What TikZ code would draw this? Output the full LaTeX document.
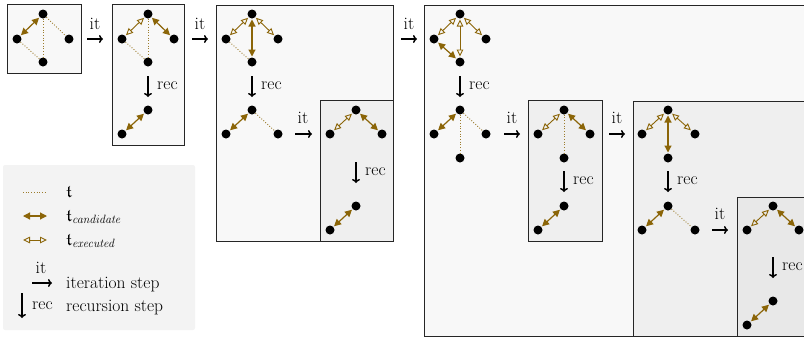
\documentclass[tikz,border=0pt]{standalone}
\usepackage{amssymb}
\usetikzlibrary{arrows.meta}
\definecolor{gold}{RGB}{139,101,8}
\definecolor{boxA}{HTML}{F8F8F8}
\definecolor{boxB}{HTML}{EFEFEF}
\definecolor{boxC}{HTML}{E8E8E8}
\definecolor{legbg}{HTML}{F3F3F3}
\begin{document}
\begin{tikzpicture}[x=1pt,y=-1pt,
 dot/.style={circle,fill=black,inner sep=0pt,minimum size=9pt},
 cand/.style={gold,line width=1.2pt,{Triangle[length=7pt,width=7pt]}-{Triangle[length=7pt,width=7pt]},shorten <=0.8pt,shorten >=0.8pt},
 exec/.style={gold,line width=0.9pt,{Triangle[open,length=7pt,width=6.5pt]}-{Triangle[open,length=7pt,width=6.5pt]},shorten <=0.8pt,shorten >=0.8pt},
 dotl/.style={gold!85,line width=0.9pt,dash pattern=on 0.9pt off 1.8pt},
 panel/.style={draw=black!85,line width=0.9pt},
 stepar/.style={line width=1.5pt,-{To[length=4pt,width=8pt]}},
 lbl/.style={font=\fontsize{17.5}{20}\selectfont,inner sep=0pt},
]
\useasboundingbox (0,0) rectangle (804,338);
\clip (0,0) rectangle (804,338);

% panels
\draw[panel,fill=boxA] (7,4) rectangle (81,73);
\draw[panel,fill=boxA] (112,4) rectangle (184,145);
\draw[panel,fill=boxA] (216,5) rectangle (393,241);
\draw[panel,fill=boxB] (320,100) rectangle (393,241);
\draw[panel,fill=boxA] (424,5) rectangle (812,336);
\draw[panel,fill=boxB] (528,100) rectangle (602,241);
\draw[panel,fill=boxB] (633,101) rectangle (812,336);
\draw[panel,fill=boxC] (737,197) rectangle (812,336);

% legend
\fill[legbg,rounded corners=2pt] (3,165) rectangle (195,330);
\coordinate (l1a) at (23,192); \coordinate (l1b) at (47,192);
\coordinate (l2a) at (23,216); \coordinate (l2b) at (47,216);
\coordinate (l3a) at (23,240); \coordinate (l3b) at (47,240);
\draw[dotl] (l1a) -- (l1b);
\draw[cand,shorten <=0pt,shorten >=0pt] (l2a) -- (l2b);
\draw[exec,shorten <=0pt,shorten >=0pt] (l3a) -- (l3b);
\node[lbl,anchor=base west] (lt1) at (66,197) {$\mathfrak{t}$};
\node[lbl,anchor=base west] (lt2) at (66,221) {$\mathfrak{t}_{\mathit{candidate}}$};
\node[lbl,anchor=base west] (lt3) at (66,245) {$\mathfrak{t}_{\mathit{executed}}$};
\coordinate (lia) at (32,283); \coordinate (lib) at (52,283);
\draw[stepar] (lia) -- (lib);
\node[lbl] (lit) at (41,268) {it};
\node[lbl,anchor=base west] (lt4) at (66,288) {iteration step};
\coordinate (lra) at (22,293); \coordinate (lrb) at (22,318);
\draw[stepar] (lra) -- (lrb);
\node[lbl,anchor=west] (lrec) at (32,306) {rec};
\node[lbl,anchor=base west] (lt5) at (66,311) {recursion step};

% ---------- P1
\node[dot] (a1t) at (43,14) {};
\node[dot] (a1l) at (17,39) {};
\node[dot] (a1r) at (69,39) {};
\node[dot] (a1b) at (43,62) {};
\draw[cand] (a1t) -- (a1l);
\draw[dotl] (a1t) -- (a1r);
\draw[dotl] (a1t) -- (a1b);
\draw[dotl] (a1l) -- (a1b);

% it 1
\draw[stepar] (87,39) coordinate (i1a) -- (103,39) coordinate (i1b);
\node[lbl] (i1) at (95,24) {it};

% ---------- P2
\node[dot] (a2t) at (148,14) {};
\node[dot] (a2l) at (122,39) {};
\node[dot] (a2r) at (174,39) {};
\node[dot] (a2b) at (148,62) {};
\draw[exec] (a2t) -- (a2l);
\draw[cand] (a2t) -- (a2r);
\draw[dotl] (a2t) -- (a2b);
\draw[dotl] (a2l) -- (a2b);
\draw[stepar] (148,76) coordinate (r2a) -- (148,97) coordinate (r2b);
\node[lbl,anchor=west] (r2) at (157,86) {rec};
\node[dot] (b2t) at (148,110) {};
\node[dot] (b2l) at (122,134) {};
\draw[cand] (b2t) -- (b2l);

% it 2
\draw[stepar] (192,39) coordinate (i2a) -- (208,39) coordinate (i2b);
\node[lbl] (i2) at (200,24) {it};

% ---------- P3
\node[dot] (a3t) at (252,14) {};
\node[dot] (a3l) at (226,39) {};
\node[dot] (a3r) at (278,39) {};
\node[dot] (a3b) at (252,62) {};
\draw[exec] (a3t) -- (a3l);
\draw[exec] (a3t) -- (a3r);
\draw[cand] (a3t) -- (a3b);
\draw[dotl] (a3l) -- (a3b);
\draw[stepar] (252,76) coordinate (r3a) -- (252,97) coordinate (r3b);
\node[lbl,anchor=west] (r3) at (261,86) {rec};
\node[dot] (b3t) at (252,110) {};
\node[dot] (b3l) at (226,134) {};
\node[dot] (b3r) at (278,134) {};
\draw[cand] (b3t) -- (b3l);
\draw[dotl] (b3t) -- (b3r);
\draw[stepar] (295,134) coordinate (i3ba) -- (312,134) coordinate (i3bb);
\node[lbl] (i3b) at (303,118) {it};
\node[dot] (c3t) at (356,110) {};
\node[dot] (c3l) at (330,134) {};
\node[dot] (c3r) at (382,134) {};
\draw[exec] (c3t) -- (c3l);
\draw[cand] (c3t) -- (c3r);
\draw[stepar] (356,162) coordinate (r3ca) -- (356,183) coordinate (r3cb);
\node[lbl,anchor=west] (r3c) at (365,172) {rec};
\node[dot] (d3t) at (356,206) {};
\node[dot] (d3l) at (330,230) {};
\draw[cand] (d3t) -- (d3l);

% it 3
\draw[stepar] (401,39) coordinate (i3a) -- (417,39) coordinate (i3b2);
\node[lbl] (i3) at (409,24) {it};

% ---------- P4
\node[dot] (a4t) at (460,14) {};
\node[dot] (a4l) at (434,39) {};
\node[dot] (a4r) at (486,39) {};
\node[dot] (a4b) at (460,62) {};
\draw[exec] (a4t) -- (a4l);
\draw[exec] (a4t) -- (a4r);
\draw[exec] (a4t) -- (a4b);
\draw[cand] (a4l) -- (a4b);
\draw[stepar] (460,76) coordinate (r4a) -- (460,97) coordinate (r4b);
\node[lbl,anchor=west] (r4) at (469,86) {rec};
\node[dot] (b4t) at (460,110) {};
\node[dot] (b4l) at (434,134) {};
\node[dot] (b4r) at (486,134) {};
\node[dot] (b4b) at (460,158) {};
\draw[cand] (b4t) -- (b4l);
\draw[dotl] (b4t) -- (b4r);
\draw[dotl] (b4t) -- (b4b);
\draw[stepar] (504,134) coordinate (i4ba) -- (520,134) coordinate (i4bb);
\node[lbl] (i4b) at (512,118) {it};
\node[dot] (c4t) at (564,110) {};
\node[dot] (c4l) at (538,134) {};
\node[dot] (c4r) at (590,134) {};
\node[dot] (c4b) at (564,158) {};
\draw[exec] (c4t) -- (c4l);
\draw[cand] (c4t) -- (c4r);
\draw[dotl] (c4t) -- (c4b);
\draw[stepar] (564,171) coordinate (r4ca) -- (564,192) coordinate (r4cb);
\node[lbl,anchor=west] (r4c) at (573,181) {rec};
\node[dot] (d4t) at (564,206) {};
\node[dot] (d4l) at (538,230) {};
\draw[cand] (d4t) -- (d4l);
\draw[stepar] (609,134) coordinate (i4ca) -- (625,134) coordinate (i4cb);
\node[lbl] (i4c) at (617,118) {it};

% ---------- P5
\node[dot] (a5t) at (668,110) {};
\node[dot] (a5l) at (642,134) {};
\node[dot] (a5r) at (695,134) {};
\node[dot] (a5b) at (668,158) {};
\draw[exec] (a5t) -- (a5l);
\draw[exec] (a5t) -- (a5r);
\draw[cand] (a5t) -- (a5b);
\draw[stepar] (668,171) coordinate (r5a) -- (668,192) coordinate (r5b);
\node[lbl,anchor=west] (r5) at (677,181) {rec};
\node[dot] (b5t) at (668,206) {};
\node[dot] (b5l) at (642,230) {};
\node[dot] (b5r) at (695,230) {};
\draw[cand] (b5t) -- (b5l);
\draw[dotl] (b5t) -- (b5r);
\draw[stepar] (712,230) coordinate (i5a) -- (728,230) coordinate (i5b);
\node[lbl] (i5) at (720,214) {it};

% ---------- P6
\node[dot] (a6t) at (773,206) {};
\node[dot] (a6l) at (747,230) {};
\node[dot] (a6r) at (799,230) {};
\draw[exec] (a6t) -- (a6l);
\draw[cand] (a6t) -- (a6r);
\draw[stepar] (773,257) coordinate (r6a) -- (773,278) coordinate (r6b);
\node[lbl,anchor=west] (r6) at (782,267) {rec};
\node[dot] (b6t) at (773,301) {};
\node[dot] (b6l) at (747,325) {};
\draw[cand] (b6t) -- (b6l);
\end{tikzpicture}
\end{document}
